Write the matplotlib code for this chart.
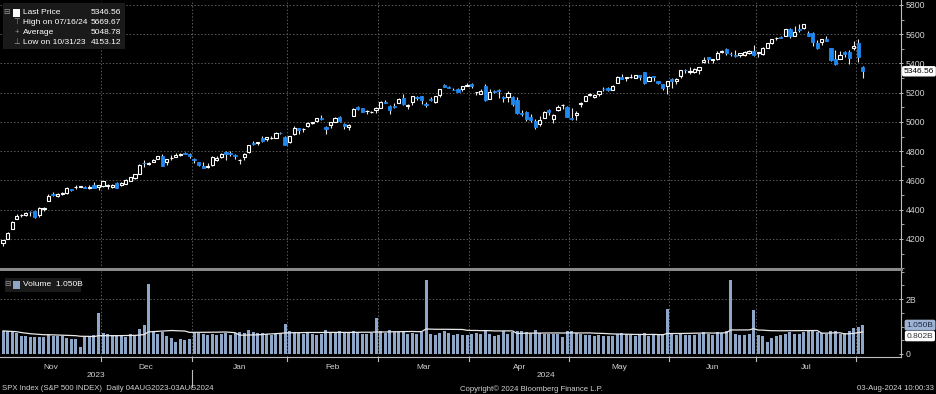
import numpy as np
import pandas as pd
import matplotlib
matplotlib.use("Agg")
import matplotlib.pyplot as plt
from matplotlib.patches import Rectangle
from matplotlib.ticker import MultipleLocator, FixedLocator

plt.rcParams['font.family'] = ['Liberation Sans', 'DejaVu Sans']

# trading days shown (Oct 31 2023 .. Aug 2 2024)
holidays = ['2023-11-23', '2023-12-25', '2024-01-01', '2024-01-15', '2024-02-19',
            '2024-03-29', '2024-05-27', '2024-06-19', '2024-07-04']
dates = pd.bdate_range('2023-10-31', '2024-08-02')
dates = dates[~dates.isin(pd.to_datetime(holidays))]

open_ = [4171.33,
         4201.27, 4268.26, 4334.23, 4364.27, 4366.21, 4384.37, 4391.41, 4364.15, 4406.66, 4458.97, 4505.30,
         4497.08, 4509.55, 4511.70, 4538.77, 4553.04, 4555.84, 4554.86, 4545.55, 4571.84, 4554.87,
         4559.43, 4564.37, 4557.25, 4586.23, 4568.84, 4576.20, 4593.39, 4618.30, 4646.20, 4721.04,
         4714.23, 4725.58, 4743.72, 4764.73, 4724.29, 4753.92, 4758.86, 4773.45, 4786.44, 4782.88,
         4745.20, 4725.07, 4697.42, 4690.57, 4703.70, 4741.93, 4759.94, 4792.13, 4791.18, 4772.35,
         4739.13, 4760.10, 4796.28, 4853.42, 4856.80, 4888.56, 4886.66, 4888.91, 4892.95, 4925.89, 4899.19,
         4861.11, 4916.06, 4957.19, 4950.16, 4973.05, 4995.16, 5004.17, 5026.83, 4967.94, 4976.44,
         5003.14, 5031.13, 4989.32, 4963.03, 5038.83, 5100.92, 5093.00, 5074.60, 5067.20, 5085.36,
         5098.51, 5130.99, 5110.52, 5108.03, 5132.38, 5164.46, 5111.96, 5134.30, 5173.49, 5175.14,
         5123.31, 5154.77, 5139.09, 5181.69, 5253.43, 5242.48, 5219.52, 5228.85, 5226.31, 5248.03,
         5257.97, 5204.29, 5194.37, 5244.05, 5158.95, 5211.37, 5217.03, 5167.88, 5172.95, 5171.51, 5149.67,
         5064.59, 5068.97, 5031.52, 5005.44, 4987.33, 5028.85, 5084.86, 5019.88, 5084.65, 5114.13, 5103.78,
         5029.03, 5049.32, 5122.78, 5142.42, 5187.20, 5168.98, 5189.03, 5225.49, 5233.08, 5221.10, 5263.26,
         5310.07, 5303.10, 5305.35, 5298.69, 5319.28, 5340.26, 5281.45, 5315.91, 5278.73, 5259.77, 5243.21,
         5297.15, 5278.24, 5314.48, 5357.80, 5343.81, 5341.22, 5353.00, 5409.13, 5441.93, 5424.08,
         5431.11, 5476.15, 5499.99, 5466.77, 5459.58, 5460.73, 5460.71, 5473.59, 5488.48,
         5471.08, 5461.84, 5507.44, 5537.91, 5572.75, 5584.24, 5591.26, 5635.21, 5590.76, 5638.16, 5644.09,
         5610.07, 5608.56, 5543.37, 5544.54, 5565.30, 5505.84, 5428.70, 5433.67, 5476.55, 5478.73, 5505.59,
         5537.84, 5376.63]

high = [4195.55,
        4245.64, 4319.72, 4373.62, 4372.21, 4386.26, 4391.20, 4393.40, 4418.03, 4421.76, 4508.67, 4521.17,
        4511.99, 4520.12, 4557.11, 4542.14, 4568.43, 4560.31, 4560.52, 4568.14, 4587.64, 4569.89,
        4599.39, 4574.06, 4578.56, 4590.74, 4590.92, 4609.23, 4623.71, 4643.93, 4709.69, 4738.57,
        4725.53, 4749.52, 4768.69, 4778.01, 4748.71, 4772.94, 4784.72, 4785.39, 4793.30, 4788.43,
        4754.33, 4729.29, 4726.78, 4721.49, 4764.54, 4765.47, 4790.80, 4798.50, 4802.40, 4782.34,
        4744.23, 4785.79, 4842.07, 4868.41, 4866.48, 4903.68, 4898.15, 4906.69, 4929.31, 4931.09, 4906.75,
        4906.97, 4975.29, 4957.19, 4957.77, 4999.89, 5000.40, 5030.06, 5048.39, 4969.34, 5002.52,
        5032.72, 5038.70, 4993.71, 4983.21, 5094.39, 5111.06, 5097.66, 5080.69, 5077.37, 5104.99,
        5140.33, 5149.67, 5114.54, 5127.97, 5165.62, 5189.26, 5124.66, 5179.87, 5179.14, 5176.85,
        5136.86, 5170.27, 5180.31, 5226.19, 5261.10, 5246.09, 5229.09, 5235.16, 5249.26, 5264.85,
        5263.95, 5208.34, 5228.75, 5256.59, 5222.18, 5219.57, 5224.81, 5178.43, 5211.78, 5175.03, 5168.43,
        5079.84, 5077.96, 5056.66, 5019.02, 5038.84, 5076.12, 5089.48, 5057.75, 5114.62, 5123.49, 5110.83,
        5096.12, 5073.21, 5139.12, 5181.00, 5200.23, 5191.95, 5214.53, 5239.66, 5237.26, 5250.37, 5311.76,
        5325.49, 5305.45, 5325.32, 5324.32, 5323.18, 5341.88, 5311.65, 5315.91, 5282.27, 5260.21, 5280.33,
        5302.11, 5298.80, 5354.16, 5362.35, 5375.08, 5365.79, 5375.95, 5441.93, 5441.93, 5432.39,
        5488.50, 5490.38, 5505.53, 5478.31, 5490.66, 5472.88, 5483.14, 5490.81, 5523.64,
        5479.55, 5509.69, 5539.27, 5570.33, 5583.11, 5590.75, 5635.39, 5642.45, 5655.56, 5666.94, 5669.67,
        5622.49, 5614.05, 5557.50, 5570.36, 5585.34, 5508.04, 5491.59, 5488.32, 5487.74, 5489.46, 5551.51,
        5566.16, 5383.89]

low = [4153.12,
       4197.74, 4268.26, 4334.23, 4347.53, 4355.41, 4359.76, 4343.94, 4353.34, 4393.82, 4458.97, 4495.31,
       4487.83, 4499.66, 4510.36, 4525.51, 4545.05, 4552.80, 4546.32, 4540.51, 4547.15, 4537.24,
       4554.71, 4544.98, 4551.68, 4546.50, 4565.22, 4574.06, 4593.39, 4608.09, 4643.23, 4694.34,
       4704.69, 4725.58, 4743.72, 4697.82, 4708.35, 4736.77, 4758.45, 4768.90, 4780.98, 4751.99,
       4722.67, 4699.71, 4687.53, 4682.11, 4699.82, 4730.35, 4756.20, 4739.58, 4768.98, 4747.12,
       4714.82, 4740.57, 4785.87, 4844.05, 4844.37, 4865.94, 4869.34, 4881.47, 4887.40, 4916.27, 4845.15,
       4853.52, 4907.99, 4918.09, 4934.88, 4969.05, 4987.09, 5000.34, 5016.83, 4920.31, 4956.45,
       4999.44, 4999.52, 4955.02, 4946.00, 5038.83, 5081.46, 5068.91, 5057.29, 5058.35, 5061.89,
       5094.16, 5127.18, 5056.82, 5092.22, 5128.21, 5114.54, 5091.14, 5114.48, 5151.88, 5123.30,
       5104.35, 5145.47, 5131.59, 5171.55, 5240.66, 5229.87, 5216.09, 5203.42, 5213.92, 5245.82,
       5229.20, 5184.05, 5194.37, 5146.06, 5157.21, 5197.35, 5160.78, 5138.70, 5138.77, 5107.94, 5052.47,
       5039.83, 5007.25, 5001.89, 4953.56, 4969.40, 5027.96, 5047.02, 4990.58, 5073.14, 5088.65, 5035.31,
       5013.45, 5011.05, 5101.22, 5142.42, 5178.96, 5165.86, 5175.21, 5209.68, 5211.16, 5217.98, 5263.26,
       5296.19, 5283.59, 5302.40, 5297.87, 5286.01, 5256.93, 5278.39, 5280.89, 5262.70, 5222.10, 5191.68,
       5234.32, 5257.63, 5297.64, 5335.36, 5331.33, 5331.52, 5327.25, 5402.51, 5403.85, 5403.75,
       5420.40, 5471.32, 5455.56, 5452.03, 5447.59, 5446.56, 5451.87, 5467.54, 5451.12,
       5446.53, 5458.43, 5507.42, 5531.63, 5562.51, 5574.57, 5586.44, 5576.53, 5590.44, 5614.75, 5639.02,
       5584.81, 5522.81, 5497.04, 5529.04, 5550.90, 5419.98, 5390.95, 5430.70, 5444.44, 5398.11, 5493.75,
       5410.42, 5302.03]

close = [4193.80,
         4237.86, 4317.78, 4358.34, 4365.98, 4378.38, 4382.78, 4347.35, 4415.24, 4411.55, 4495.70, 4502.88,
         4508.24, 4514.02, 4547.38, 4538.19, 4556.62, 4559.34, 4550.43, 4554.89, 4550.58, 4567.80,
         4594.63, 4569.78, 4567.18, 4549.34, 4585.59, 4604.37, 4622.44, 4643.70, 4707.09, 4719.55,
         4719.19, 4740.56, 4768.37, 4698.35, 4746.75, 4754.63, 4774.75, 4781.58, 4783.35, 4769.83,
         4742.83, 4704.81, 4688.68, 4697.24, 4763.54, 4756.50, 4783.45, 4780.24, 4783.83, 4765.98,
         4739.21, 4780.94, 4839.81, 4850.43, 4864.60, 4868.55, 4894.16, 4890.97, 4927.93, 4924.97, 4845.65,
         4906.19, 4958.61, 4942.81, 4954.23, 4995.06, 4997.91, 5026.61, 5021.84, 4953.17, 5000.62,
         5029.73, 5005.57, 4975.51, 4981.80, 5087.03, 5088.80, 5069.53, 5078.18, 5069.76, 5096.27,
         5137.08, 5130.95, 5078.65, 5104.76, 5157.36, 5123.69, 5117.94, 5175.27, 5165.31, 5150.48,
         5117.09, 5149.42, 5178.51, 5224.62, 5241.53, 5234.18, 5218.19, 5203.58, 5248.49, 5254.35,
         5243.77, 5205.81, 5211.49, 5147.21, 5204.34, 5202.39, 5209.91, 5160.64, 5199.06, 5123.41, 5061.82,
         5051.41, 5022.21, 5011.12, 4967.23, 5010.60, 5070.55, 5071.63, 5048.42, 5099.96, 5116.17, 5035.69,
         5018.39, 5064.20, 5127.79, 5180.74, 5187.70, 5187.67, 5214.08, 5222.68, 5221.42, 5246.68, 5308.15,
         5297.10, 5303.27, 5308.13, 5321.41, 5307.01, 5267.84, 5304.72, 5306.04, 5266.95, 5235.48, 5277.51,
         5283.40, 5291.34, 5354.03, 5352.96, 5346.99, 5360.79, 5375.32, 5421.03, 5433.74, 5431.60,
         5473.23, 5487.03, 5473.17, 5464.62, 5447.87, 5469.30, 5477.90, 5482.87, 5460.48,
         5475.09, 5509.01, 5537.02, 5567.19, 5572.85, 5576.98, 5633.91, 5584.54, 5615.35, 5631.22, 5667.20,
         5588.27, 5544.59, 5505.00, 5564.41, 5555.74, 5427.13, 5399.22, 5459.10, 5463.54, 5436.44, 5522.30,
         5446.68, 5346.56]

# volume in billions
volume = [0.84,
          0.82, 0.80, 0.78, 0.66, 0.64, 0.62, 0.63, 0.62, 0.60, 0.70, 0.64,
          0.64, 0.66, 0.58, 0.56, 0.54, 0.26, 0.60, 0.62, 0.68, 1.49,
          0.78, 0.72, 0.70, 0.68, 0.66, 0.62, 0.72, 0.70, 0.90, 1.05,
          2.55, 0.85, 0.72, 0.80, 0.66, 0.58, 0.45, 0.55, 0.50, 0.55,
          0.78, 0.76, 0.72, 0.68, 0.72, 0.70, 0.72, 0.75, 0.70, 0.78,
          0.80, 0.76, 0.88, 0.80, 0.76, 0.78, 0.74, 0.70, 0.72, 0.76, 1.10,
          0.84, 0.80, 0.76, 0.74, 0.76, 0.72, 0.70, 0.74, 0.88, 0.78,
          0.76, 0.84, 0.80, 0.76, 0.84, 0.80, 0.72, 0.72, 0.76, 1.30,
          0.84, 0.78, 0.88, 0.80, 0.80, 0.82, 0.72, 0.78, 0.74, 0.80,
          2.70, 0.72, 0.70, 0.78, 0.82, 0.76, 0.70, 0.72, 0.68, 0.70,
          0.72, 0.78, 0.72, 0.88, 0.72, 0.64, 0.70, 0.82, 0.74, 0.80, 0.85,
          0.82, 0.80, 0.78, 0.88, 0.78, 0.72, 0.72, 0.74, 0.72, 0.62, 0.84,
          0.82, 0.78, 0.72, 0.68, 0.70, 0.64, 0.68, 0.66, 0.64, 0.66, 0.72,
          0.78, 0.74, 0.70, 0.66, 0.70, 0.78, 0.66, 0.70, 0.68, 0.72, 1.65,
          0.72, 0.70, 0.74, 0.70, 0.68, 0.70, 0.74, 0.80, 0.74, 0.70,
          0.80, 0.76, 0.82, 2.70, 0.74, 0.70, 0.68, 0.72, 1.60,
          0.68, 0.66, 0.45, 0.58, 0.64, 0.68, 0.72, 0.80, 0.72, 0.74, 0.80,
          0.82, 0.84, 0.80, 0.78, 0.74, 0.84, 0.82, 0.72, 0.76, 0.82, 0.95,
          1.00, 1.05]

month_names = ['Nov', 'Dec', 'Jan', 'Feb', 'Mar', 'Apr', 'May', 'Jun', 'Jul']
price_ticks = [4200, 4400, 4600, 4800, 5000, 5200, 5400, 5600, 5800]

BG = 'black'
BLUE = '#1e88f0'
TXT = '#d2d2d2'
GRID = '#5a5a5a'
VOLC = '#8ea6c8'
FS = 6
FOOT = 5.6

o = np.array(open_)
h = np.array(high)
l = np.array(low)
c = np.array(close)
v = np.array(volume)
x = np.arange(len(c))
up = c >= o

fig = plt.figure(figsize=(9.36, 3.94), dpi=100, facecolor=BG)
ax = fig.add_axes([0, 0.3173, 0.9626, 0.6827], facecolor=BG)
axv = fig.add_axes([0, 0.0939, 0.9626, 0.2183], facecolor=BG)

x0, x1 = -0.66, 197.4

# month boundaries (the Oct/Nov one sits at the left edge and is not drawn)
mon = dates.to_period('M')
bounds = [i - 0.5 for i in range(2, len(x)) if mon[i] != mon[i - 1]]

for a in (ax, axv):
    a.set_xlim(x0, x1)
    for b in bounds:
        a.axvline(b, color=GRID, lw=0.7, ls=(0, (1.5, 2)), zorder=0)
    for s in ['top', 'left', 'bottom']:
        a.spines[s].set_visible(False)
    a.spines['right'].set_color('#bdbdbd')
    a.spines['right'].set_linewidth(0.8)
    a.yaxis.tick_right()
    a.tick_params(axis='y', colors='#bdbdbd', labelcolor=TXT, labelsize=6.3,
                  length=3, width=0.7, direction='inout', pad=2)
    a.tick_params(axis='y', which='minor', colors='#bdbdbd', length=2, width=0.6)
    a.set_xticks([])

# price panel
ax.set_ylim(3995, 5834)
ax.yaxis.set_major_locator(FixedLocator(price_ticks))
ax.yaxis.set_minor_locator(MultipleLocator(100))
for t in price_ticks:
    ax.axhline(t, color=GRID, lw=0.7, ls=(0, (1.5, 2)), zorder=0)

ax.vlines(x, l, h, color='#e6e6e6', lw=0.8, zorder=2)
bw = 0.7
body_lo = np.minimum(o, c)
body_h = np.maximum(np.abs(c - o), 2.5)
ax.bar(x[up], body_h[up], bw, bottom=body_lo[up], facecolor=BG, edgecolor='white',
       linewidth=0.8, zorder=3)
ax.bar(x[~up], body_h[~up], bw, bottom=body_lo[~up], facecolor=BLUE, edgecolor=BLUE,
       linewidth=0.6, zorder=3)

# panel separator
ax.axhline(3995, color='#8a8a8a', lw=2.2, zorder=5, clip_on=False)

# last price tag
ax.annotate(f'{close[-1]:.2f}', xy=(1.0, close[-1]), xycoords=('axes fraction', 'data'),
            xytext=(2, 0), textcoords='offset points', ha='left', va='center',
            fontsize=FS, color='black', zorder=7,
            bbox=dict(boxstyle='round,pad=0.12', fc='white', ec='white'), annotation_clip=False)

# price legend box
fig.patches.append(Rectangle((3 / 936, 1 - 49 / 394), 122 / 936, 46 / 394,
                             transform=fig.transFigure, fc='#1a1a1a', ec='none', zorder=5))
rows = [('Last Price', f'{close[-1]:.2f}'),
        ('High on 07/16/24', f'{max(high):.2f}'),
        ('Average', f'{np.mean(close):.2f}'),
        ('Low on 10/31/23', f'{min(low):.2f}')]
syms = ['', '⊤', '+', '⊥']
for i, (lab, val) in enumerate(rows):
    yy = 1 - (12.5 + 10 * i) / 394
    fig.text(23 / 936, yy, lab, color='white', fontsize=FS, va='center', zorder=6)
    fig.text(121 / 936, yy, val, color='white', fontsize=FS, va='center', ha='right', zorder=6)
    if syms[i]:
        fig.text(17 / 936, yy, syms[i], color='#9a9a9a', fontsize=5.5, va='center', ha='center', zorder=6)
fig.patches.append(Rectangle((13 / 936, 1 - 16.5 / 394), 7 / 936, 8 / 394,
                             transform=fig.transFigure, fc='white', ec='none', zorder=6))
fig.text(6 / 936, 1 - 12.5 / 394, '⊟', color='#9a9a9a', fontsize=5.5, va='center', ha='center', zorder=6)

# volume panel
axv.set_ylim(-0.11, 3.02)
axv.yaxis.set_major_locator(FixedLocator([0, 2]))
axv.yaxis.set_minor_locator(MultipleLocator(0.5))
axv.set_yticklabels(['0', '2B'])
axv.axhline(2, color=GRID, lw=0.7, ls=(0, (1.5, 2)), zorder=0)
axv.bar(x, v, 0.66, color=VOLC, zorder=2)
ma = pd.Series(v).rolling(20, min_periods=1).mean()
axv.plot(x, ma, color='#e8e8e8', lw=0.9, zorder=3)
axv.spines['bottom'].set_visible(True)
axv.spines['bottom'].set_color('#bdbdbd')
axv.spines['bottom'].set_linewidth(0.8)

axv.annotate(f'{ma.iloc[-1]:.3f}B', xy=(1.0, ma.iloc[-1]), xycoords=('axes fraction', 'data'),
             xytext=(4, -3), textcoords='offset points', ha='left', va='center',
             fontsize=FS, color='#333333',
             bbox=dict(boxstyle='round,pad=0.12', fc='white', ec='white'), annotation_clip=False)
axv.annotate(f'{volume[-1]:.3f}B', xy=(1.0, volume[-1]), xycoords=('axes fraction', 'data'),
             xytext=(4, 0), textcoords='offset points', ha='left', va='center',
             fontsize=FS, color='#1a2a44',
             bbox=dict(boxstyle='round,pad=0.15', fc='#9fb4d4', ec='#9fb4d4'), annotation_clip=False)

fig.patches.append(Rectangle((5 / 936, 1 - 292 / 394), 76 / 936, 14 / 394,
                             transform=fig.transFigure, fc='#1a1a1a', ec='none', zorder=5))
fig.patches.append(Rectangle((13 / 936, 1 - 289 / 394), 7 / 936, 8 / 394,
                             transform=fig.transFigure, fc=VOLC, ec='none', zorder=6))
fig.text(7.5 / 936, 1 - 285 / 394, '⊟', color='#9a9a9a', fontsize=5.5, va='center', ha='center', zorder=6)
fig.text(23 / 936, 1 - 285 / 394, f'Volume  {volume[-1]:.3f}B', color='white', fontsize=FS,
         va='center', zorder=6)

# date axis: boundary ticks, month and year labels
for b in bounds:
    axv.plot([b, b], [0, -0.045], transform=axv.get_xaxis_transform(), color='#bdbdbd',
             lw=0.8, clip_on=False)
edges = [x0] + bounds + [x1]
for i, name in enumerate(month_names):
    mid = (edges[i] + edges[i + 1]) / 2
    axv.text(mid, -0.12, name, transform=axv.get_xaxis_transform(), ha='center', va='center',
             color=TXT, fontsize=FS)
yb = bounds[1]
axv.text((x0 + yb) / 2, -0.22, '2023', transform=axv.get_xaxis_transform(), ha='center',
         va='center', color=TXT, fontsize=FS)
axv.text((yb + x1) / 2, -0.22, '2024', transform=axv.get_xaxis_transform(), ha='center',
         va='center', color=TXT, fontsize=FS)
axv.plot([yb, yb], [-0.15, -0.35], transform=axv.get_xaxis_transform(), color='#bdbdbd',
         lw=0.8, clip_on=False)

fig.text(2 / 936, 1 - 389 / 394, 'SPX Index (S&P 500 INDEX)  Daily 04AUG2023-03AUG2024',
         color=TXT, fontsize=FOOT, va='center')
fig.text(460 / 936, 1 - 389 / 394, 'Copyright© 2024 Bloomberg Finance L.P.',
         color=TXT, fontsize=FOOT, va='center')
fig.text(934 / 936, 1 - 389 / 394, '03-Aug-2024 10:00:33', color=TXT, fontsize=FOOT,
         va='center', ha='right')

fig.savefig('out.png', dpi=100, facecolor=BG)
